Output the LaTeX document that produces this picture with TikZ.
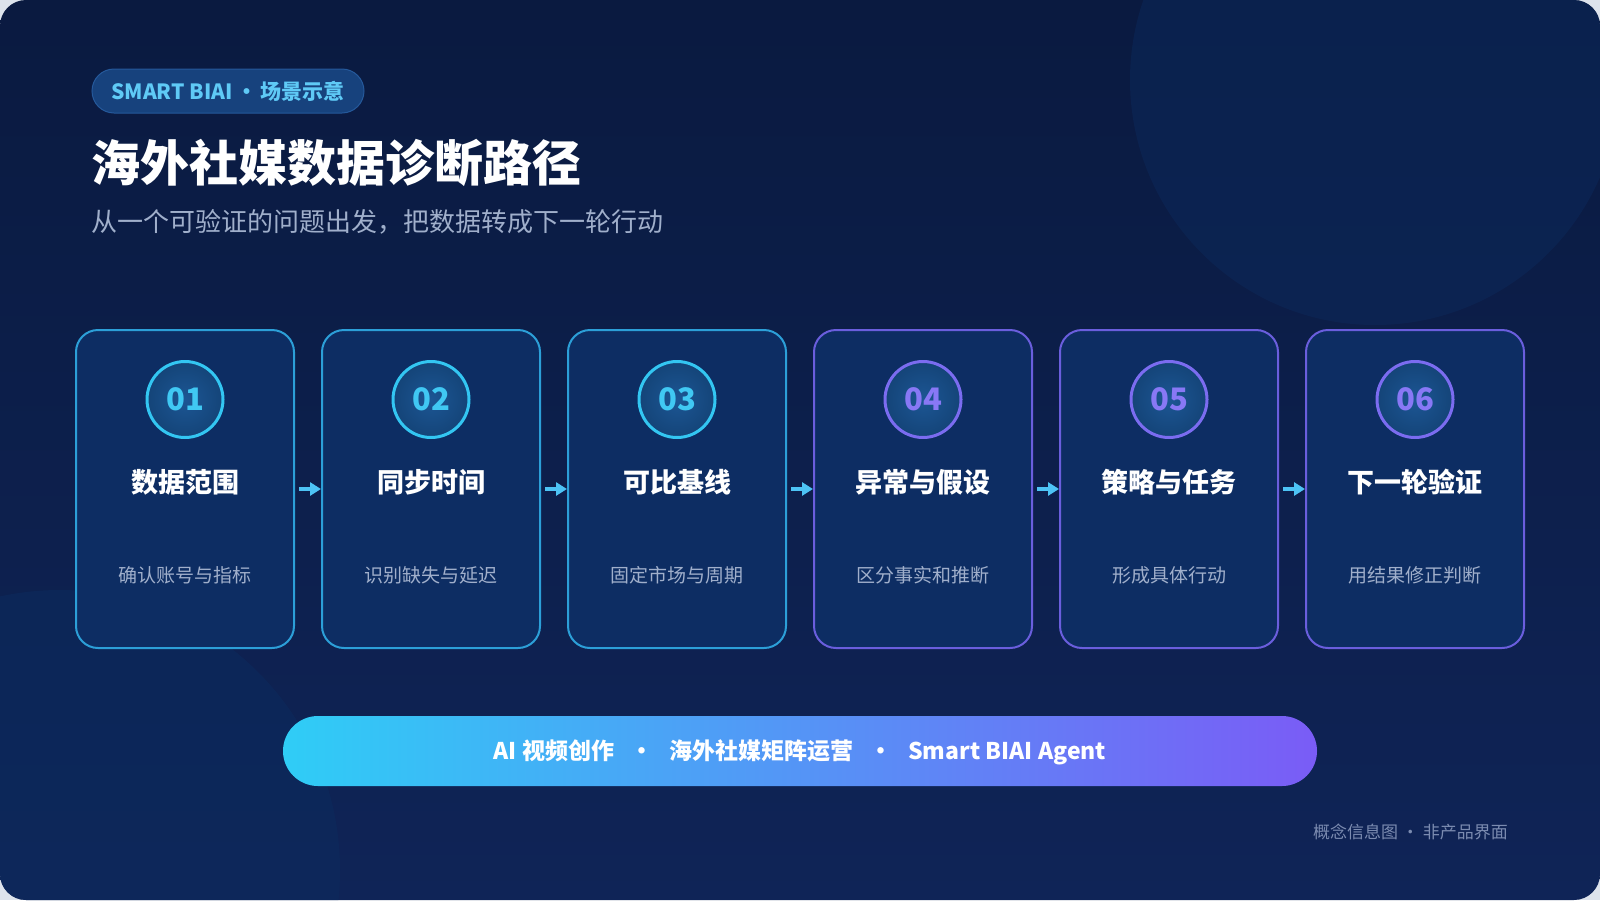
\documentclass[tikz,border=0pt]{standalone}
\usepackage{fontspec}
\setmainfont{Noto Sans CJK SC}
\usetikzlibrary{positioning,arrows.meta}

\definecolor{paper}{HTML}{DDE3EC}
\definecolor{bgtop}{HTML}{0A1A40}
\definecolor{bgbot}{HTML}{0F2457}
\definecolor{blob}{HTML}{0C2B5E}
\definecolor{cardfill}{HTML}{0D2D63}
\definecolor{cyanline}{HTML}{2C9FD8}
\definecolor{purpline}{HTML}{6A5EDD}
\definecolor{cyanring}{HTML}{33C6F2}
\definecolor{purpring}{HTML}{7B6CF0}
\definecolor{cyannum}{HTML}{40C8F3}
\definecolor{purpnum}{HTML}{8878F5}
\definecolor{circlite}{HTML}{1C5694}
\definecolor{circdark}{HTML}{144478}
\definecolor{subgrey}{HTML}{A0AFCB}
\definecolor{footgrey}{HTML}{7B8BB0}
\definecolor{badgefill}{HTML}{17427D}
\definecolor{badgeline}{HTML}{25599B}
\definecolor{badgetext}{HTML}{5FCAF6}
\definecolor{arrowcyan}{HTML}{4DC3F5}
\definecolor{barleft}{HTML}{2FCDF6}
\definecolor{barmid}{HTML}{4FA2F6}
\definecolor{barright}{HTML}{7A5CF6}

\tikzset{
	card/.style={draw=#1, line width=2pt, fill=cardfill, rounded corners=22pt,
		minimum width=218pt, minimum height=318pt},
	stepcircle/.style={circle, draw=#1, line width=3pt, inner color=circlite,
		outer color=circdark, minimum size=76pt, inner sep=0pt},
	num/.style={text=#1, font=\bfseries\fontsize{31}{36}\selectfont},
	ttl/.style={text=white, font=\bfseries\fontsize{27}{32}\selectfont},
	sub/.style={text=subgrey, font=\fontsize{19}{23}\selectfont},
	link/.style={arrowcyan, line width=4pt, shorten <=4pt, -{Triangle[length=11pt,width=13pt]}}
}

\begin{document}
\begin{tikzpicture}[x=1pt,y=-1pt]
	\useasboundingbox (0,0) rectangle (1600,900);
	\fill[paper] (0,0) rectangle (1600,900);
	% background panel
	\shade[top color=bgtop, bottom color=bgbot, rounded corners=26pt] (0,0) rectangle (1600,900);
	\begin{scope}
		\clip[rounded corners=26pt] (0,0) rectangle (1600,900);
		\fill[blob, opacity=0.45] (1375,80) circle (245);
		\fill[blob, opacity=0.55] (60,870) circle (280);
	\end{scope}

	% header
	\node[fill=badgefill, draw=badgeline, line width=1pt, rounded corners=22pt,
		minimum width=272pt, minimum height=44pt, text=badgetext,
		font=\bfseries\fontsize{21}{25}\selectfont] (badge) at (228,91) {SMART BIAI\,•\,场景示意};
	\node[anchor=west, text=white, font=\bfseries\fontsize{49}{56}\selectfont, inner sep=0pt]
		(title) at (91,163) {海外社媒数据诊断路径};
	\node[anchor=west, text=subgrey, font=\fontsize{26}{30}\selectfont, inner sep=0pt]
		(subtitle) at (91,222) {从一个可验证的问题出发，把数据转成下一轮行动};

	% six steps
	\foreach \i/\col/\rcol/\ncol/\ttext/\stext in {
		1/cyanline/cyanring/cyannum/数据范围/确认账号与指标,
		2/cyanline/cyanring/cyannum/同步时间/识别缺失与延迟,
		3/cyanline/cyanring/cyannum/可比基线/固定市场与周期,
		4/purpline/purpring/purpnum/异常与假设/区分事实和推断,
		5/purpline/purpring/purpnum/策略与任务/形成具体行动,
		6/purpline/purpring/purpnum/下一轮验证/用结果修正判断}
	{
		\node[card=\col] (card\i) at ({185+246*(\i-1)},489) {};
		\node[stepcircle=\rcol, below=31pt of card\i.north] (circ\i) {};
		\node[num=\ncol] at (circ\i) {0\i};
		\node[ttl] (ttl\i) at ([yshift=-153pt]card\i.north) {\ttext};
		\node[sub] (sub\i) at ([yshift=-246pt]card\i.north) {\stext};
	}
	\foreach \i [evaluate=\i as \j using int(\i+1)] in {1,...,5}
		\draw[link] (card\i.east) -- (card\j.west);

	% bottom bar
	\shade[left color=barleft, middle color=barmid, right color=barright, rounded corners=35pt]
		(283,716) rectangle (1317,786);
	\node[text=white, font=\bfseries\fontsize{23}{28}\selectfont] (bar) at (800,752)
		{AI 视频创作\hspace{16pt}•\hspace{16pt}海外社媒矩阵运营\hspace{16pt}•\hspace{16pt}Smart BIAI Agent};

	\node[anchor=east, text=footgrey, font=\fontsize{17}{20}\selectfont, inner sep=0pt]
		(foot) at (1508,832) {概念信息图 · 非产品界面};
\end{tikzpicture}
\end{document}
